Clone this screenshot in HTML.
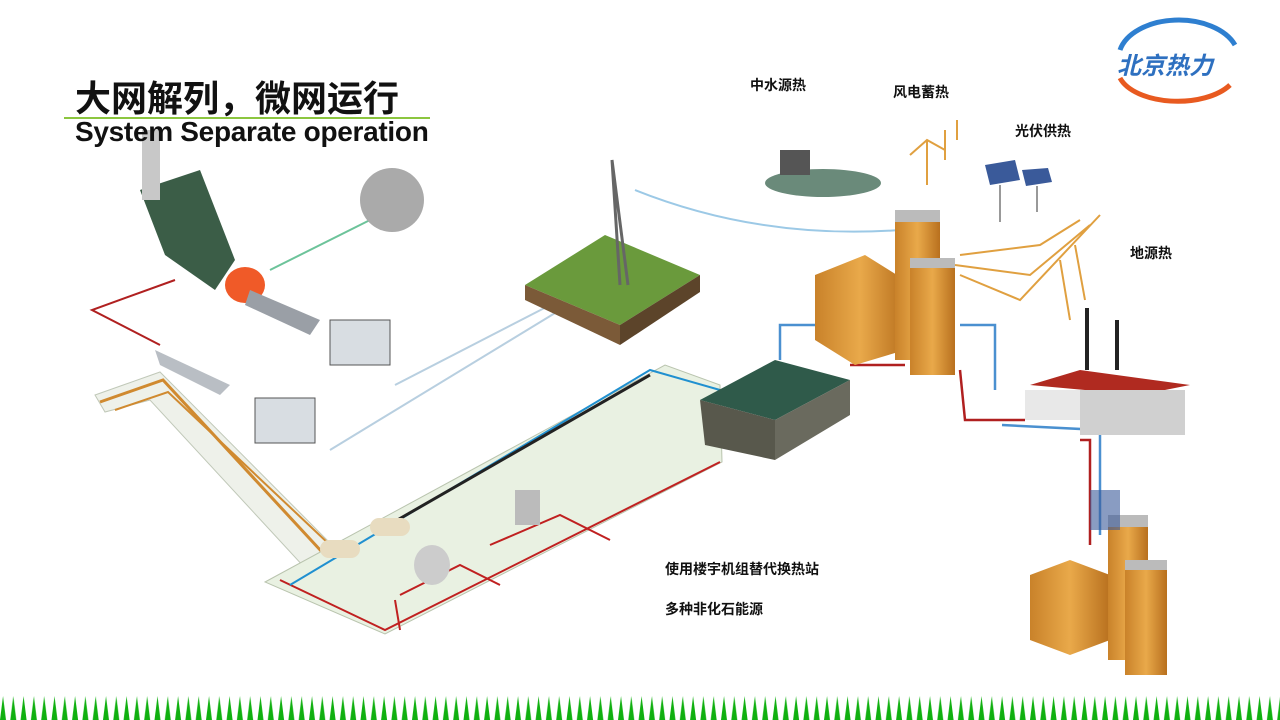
<!DOCTYPE html>
<html><head><meta charset="utf-8"><style>
body{margin:0;width:1280px;height:720px;overflow:hidden;background:#fff;font-family:"Liberation Sans","Noto Sans CJK SC",sans-serif;position:relative}
.t{position:absolute;font-weight:bold;color:#111;white-space:nowrap}
</style></head><body>
<svg width="1280" height="720" style="position:absolute;left:0;top:0">
<defs>
<pattern id="g" x="0" y="0" width="10.3" height="24" patternUnits="userSpaceOnUse">
<polygon points="0,24 3,0 6,24" fill="#10b010"/></pattern>
<linearGradient id="bo" x1="0" x2="1"><stop offset="0" stop-color="#c9822a"/><stop offset="0.5" stop-color="#e9a94a"/><stop offset="1" stop-color="#b8701e"/></linearGradient>
</defs>
<line x1="64" y1="118" x2="430" y2="118" stroke="#8cc63f" stroke-width="2"/>
<!-- left exhaust L plate -->
<polygon points="95,395 160,372 335,548 305,568 150,400 105,412" fill="#eef1ea" stroke="#c0c8b8"/>
<polyline points="100,402 163,380 322,552" fill="none" stroke="#d08a30" stroke-width="3"/>
<polyline points="115,410 168,392 330,545" fill="none" stroke="#d08a30" stroke-width="2"/>
<!-- main plate -->
<polygon points="265,582 665,365 720,385 722,462 385,634" fill="#e9f1e2" stroke="#b9c4ae"/>
<polyline points="280,580 385,630 720,462" fill="none" stroke="#c02020" stroke-width="2"/>
<polyline points="395,600 400,630" stroke="#c02020" stroke-width="2"/>
<polyline points="400,595 460,565 500,585" fill="none" stroke="#c02020" stroke-width="2"/>
<polyline points="490,545 560,515 610,540" fill="none" stroke="#c02020" stroke-width="2"/>
<polyline points="290,585 650,370 720,390" fill="none" stroke="#2090d0" stroke-width="2"/>
<line x1="380" y1="530" x2="650" y2="375" stroke="#222" stroke-width="3"/>
<polyline points="175,280 92,310 160,345" fill="none" stroke="#b02020" stroke-width="2"/>
<line x1="330" y1="450" x2="560" y2="310" stroke="#b8cfe0" stroke-width="2"/>
<line x1="395" y1="385" x2="560" y2="300" stroke="#b8cfe0" stroke-width="2"/>
<line x1="270" y1="270" x2="370" y2="220" stroke="#6cc39a" stroke-width="2"/>
<path d="M635,190 Q760,240 900,230" fill="none" stroke="#9cc9e6" stroke-width="2"/>
<!-- plant -->
<polygon points="140,190 200,170 235,260 215,290 165,255" fill="#3b5d47"/>
<rect x="142" y="130" width="18" height="70" fill="#c8c8c8"/>
<ellipse cx="245" cy="285" rx="20" ry="18" fill="#f05a28"/>
<polygon points="250,290 320,320 310,335 245,305" fill="#9a9fa6"/>
<polygon points="155,350 230,385 220,395 160,365" fill="#b9bec4"/>
<rect x="330" y="320" width="60" height="45" fill="#d8dde2" stroke="#555"/>
<rect x="255" y="398" width="60" height="45" fill="#d8dde2" stroke="#555"/>
<circle cx="392" cy="200" r="32" fill="#aaa"/>
<!-- hill & tower -->
<polygon points="525,285 605,235 700,275 620,325" fill="#6a9a3c"/>
<polygon points="525,285 620,325 620,345 525,300" fill="#7b5a38"/>
<polygon points="620,325 700,275 700,292 620,345" fill="#5c442a"/>
<polyline points="620,285 612,160 628,285" fill="none" stroke="#666" stroke-width="3"/>
<ellipse cx="823" cy="183" rx="58" ry="14" fill="#6a8a7a"/>
<rect x="780" y="150" width="30" height="25" fill="#555"/>
<g stroke="#e0a040" stroke-width="2" fill="none"><line x1="927" y1="140" x2="927" y2="185"/><line x1="945" y1="130" x2="945" y2="160"/><line x1="957" y1="120" x2="957" y2="140"/><polyline points="910,155 927,140 945,150"/></g>
<polygon points="985,165 1015,160 1020,180 990,185" fill="#3a5a9a"/>
<polygon points="1022,170 1048,168 1052,182 1026,186" fill="#3a5a9a"/>
<line x1="1000" y1="185" x2="1000" y2="222" stroke="#999" stroke-width="2"/>
<line x1="1037" y1="186" x2="1037" y2="212" stroke="#999" stroke-width="2"/>
<g stroke="#e0a040" stroke-width="2" fill="none">
<path d="M960,255 L1040,245 L1080,220 M955,265 L1030,275 L1090,225 M960,275 L1020,300 L1100,215"/>
<line x1="1060" y1="260" x2="1070" y2="320"/><line x1="1075" y1="245" x2="1085" y2="300"/></g>
<g fill="none" stroke-width="2.5">
<polyline points="780,360 780,325 815,325" stroke="#4a90d0"/>
<polyline points="960,325 995,325 995,390" stroke="#4a90d0"/>
<polyline points="960,370 965,420 1025,420" stroke="#b02020"/>
<polyline points="850,365 905,365" stroke="#b02020"/>
<polyline points="1080,440 1090,440 1090,545" stroke="#b02020"/>
<polyline points="1002,425 1100,430 1100,535" stroke="#4a90d0"/>
</g>
<polygon points="815,275 865,255 905,280 905,350 855,365 815,340" fill="url(#bo)"/>
<rect x="895" y="215" width="45" height="145" fill="url(#bo)"/>
<rect x="910" y="260" width="45" height="115" fill="url(#bo)"/>
<rect x="895" y="210" width="45" height="12" fill="#bbb"/>
<rect x="910" y="258" width="45" height="10" fill="#bbb"/>
<polygon points="700,400 775,360 850,380 775,420" fill="#2f5a4a"/>
<polygon points="700,400 775,420 775,460 705,445" fill="#58584c"/>
<polygon points="775,420 850,380 850,415 775,460" fill="#6a6a5e"/>
<polygon points="1030,385 1080,370 1190,385 1140,395" fill="#b02a20"/>
<rect x="1025" y="390" width="55" height="30" fill="#e8e8e8"/>
<rect x="1080" y="390" width="105" height="45" fill="#d0d0d0"/>
<rect x="1085" y="308" width="4" height="62" fill="#222"/>
<rect x="1115" y="320" width="4" height="50" fill="#222"/>
<polygon points="1030,575 1070,560 1110,575 1110,640 1070,655 1030,640" fill="url(#bo)"/>
<rect x="1108" y="520" width="40" height="140" fill="url(#bo)"/>
<rect x="1125" y="565" width="42" height="110" fill="url(#bo)"/>
<rect x="1108" y="515" width="40" height="12" fill="#bbb"/>
<rect x="1125" y="560" width="42" height="10" fill="#bbb"/>
<rect x="1090" y="490" width="30" height="40" fill="#3a5a9a" opacity="0.6"/>
<ellipse cx="432" cy="565" rx="18" ry="20" fill="#ccc"/>
<rect x="515" y="490" width="25" height="35" fill="#bbb"/>
<rect x="320" y="540" width="40" height="18" rx="9" fill="#e8dcc0"/>
<rect x="370" y="518" width="40" height="18" rx="9" fill="#e8dcc0"/>
<path d="M1120,50 A60,38 0 0,1 1235,45" fill="none" stroke="#2e7fd0" stroke-width="5"/>
<path d="M1120,78 A60,32 0 0,0 1230,85" fill="none" stroke="#e85a20" stroke-width="5"/>
<text x="1117" y="74" font-family="Liberation Sans,Noto Sans CJK SC,sans-serif" font-size="24" font-weight="bold" font-style="italic" fill="#2e70c0">北京热力</text>
<rect x="0" y="696" width="1280" height="24" fill="url(#g)"/>
</svg>
<div class="t" style="left:75px;top:70px;font-size:36px">大网解列，微网运行</div>
<div class="t" style="left:75px;top:116px;font-size:28px;letter-spacing:-0.3px">System Separate operation</div>
<div class="t" style="left:750px;top:75px;font-size:14px">中水源热</div>
<div class="t" style="left:893px;top:82px;font-size:14px">风电蓄热</div>
<div class="t" style="left:1015px;top:121px;font-size:14px">光伏供热</div>
<div class="t" style="left:1130px;top:243px;font-size:14px">地源热</div>
<div class="t" style="left:665px;top:559px;font-size:14px">使用楼宇机组替代换热站</div>
<div class="t" style="left:665px;top:599px;font-size:14px">多种非化石能源</div>
</body></html>
